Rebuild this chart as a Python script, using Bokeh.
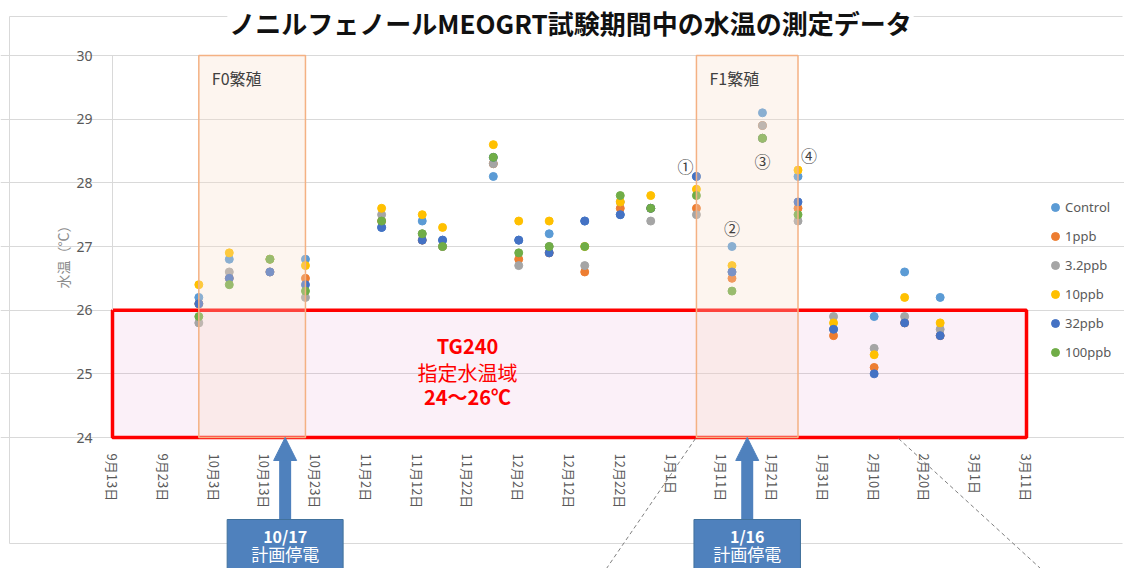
import math
from datetime import datetime
from bokeh.plotting import figure
from bokeh.models import (ColumnDataSource, FixedTicker, BoxAnnotation, Label, Arrow,
                          NormalHead, Range1d)
from bokeh.embed import file_html
from bokeh.resources import INLINE

nan = float("nan")

# ---------------- data ----------------
dates = ["2015-09-30", "2015-10-06", "2015-10-14", "2015-10-21", "2015-11-05", "2015-11-13",
         "2015-11-17", "2015-11-27", "2015-12-02", "2015-12-08", "2015-12-15", "2015-12-22",
         "2015-12-28", "2016-01-06", "2016-01-13", "2016-01-19", "2016-01-26", "2016-02-02",
         "2016-02-10", "2016-02-16", "2016-02-23"]
series_names = ["Control", "1ppb", "3.2ppb", "10ppb", "32ppb", "100ppb"]
series_colors = ["#5B9BD5", "#ED7D31", "#A5A5A5", "#FFC000", "#4472C4", "#70AD47"]
control = [26.2, 26.8, 26.8, 26.8, 27.3, 27.4, 27.1, 28.1, 27.1, 27.2, 27.4, 27.5, 27.6, 28.1, 27.0, 29.1, 28.1, 25.7, 25.9, 26.6, 26.2]
ppb1 = [26.1, 26.5, 26.6, 26.5, 27.4, 27.1, 27.0, 28.3, 26.8, 26.9, 26.6, 27.6, 27.6, 27.6, 26.5, 28.9, 27.6, 25.6, 25.1, 25.8, 25.6]
ppb3_2 = [25.8, 26.6, 26.6, 26.2, 27.5, 27.2, 27.0, 28.3, 26.7, 27.0, 26.7, 27.7, 27.4, 27.5, 26.6, 28.9, 27.4, 25.9, 25.4, 25.9, 25.7]
ppb10 = [26.4, 26.9, 26.8, 26.7, 27.6, 27.5, 27.3, 28.6, 27.4, 27.4, 27.0, 27.7, 27.8, 27.9, 26.7, 28.7, 28.2, 25.8, 25.3, 26.2, 25.8]
ppb32 = [26.1, 26.5, 26.6, 26.4, 27.3, 27.1, 27.1, 28.4, 27.1, 26.9, 27.4, 27.5, 27.6, 28.1, 26.6, 28.7, 27.7, 25.7, 25.0, 25.8, 25.6]
ppb100 = [25.9, 26.4, 26.8, 26.3, 27.4, 27.2, 27.0, 28.4, 26.9, 27.0, 27.0, 27.8, 27.6, 27.8, 26.3, 28.7, 27.5, nan, nan, nan, nan]

tick_dates = ["2015-09-13", "2015-09-23", "2015-10-03", "2015-10-13", "2015-10-23", "2015-11-02",
              "2015-11-12", "2015-11-22", "2015-12-02", "2015-12-12", "2015-12-22", "2016-01-01",
              "2016-01-11", "2016-01-21", "2016-01-31", "2016-02-10", "2016-02-20", "2016-03-01",
              "2016-03-11"]
tick_labels = ["9月13日", "9月23日", "10月3日", "10月13日", "10月23日", "11月2日", "11月12日",
               "11月22日", "12月2日", "12月12日", "12月22日", "1月1日", "1月11日", "1月21日",
               "1月31日", "2月10日", "2月20日", "3月1日", "3月11日"]
y_ticks = [24, 25, 26, 27, 28, 29, 30]

x_start, x_end = "2015-09-13", "2016-03-11"
y_min, y_max = 24, 30
target_low, target_high = 24, 26
f0_period = ("2015-09-30", "2015-10-21")
f1_period = ("2016-01-06", "2016-01-26")
outage_dates = ["2015-10-17", "2016-01-16"]
outage_labels = ["10/17", "1/16"]
marker_points = [("①", "2016-01-06"), ("②", "2016-01-13"), ("③", "2016-01-19"), ("④", "2016-01-26")]


def ms(s):
    return int((datetime.strptime(s, "%Y-%m-%d") - datetime(1970, 1, 1)).total_seconds() * 1000)


X0, X1 = ms(x_start), ms(x_end)

# canvas geometry (the frame fills the whole canvas; axes are placed at fixed locations)
W, H = 1124, 568
PX0, PX1 = 112, 1026     # canvas x of x_start / x_end
PY_TOP, PY_BOT = 55, 437  # canvas y of y_max / y_min
xs = (X1 - X0) / (PX1 - PX0)
ys = (y_max - y_min) / (PY_BOT - PY_TOP)
xr = Range1d(X0 - PX0 * xs, X1 + (W - PX1) * xs)
yr = Range1d(y_min - (H - PY_BOT) * ys, y_max + PY_TOP * ys)


def sy(py):  # canvas y (from top) -> screen units (from bottom)
    return H - py


JP = "Noto Sans CJK JP"

p = figure(width=W, height=H, x_axis_type="datetime", x_range=xr, y_range=yr,
           output_backend="svg", toolbar_location=None, title=None, min_border=0)
p.outline_line_color = None
p.background_fill_color = "white"
p.border_fill_color = "white"

# outer chart border
BORDER = "#d9d9d9"
for (a, b, c, d) in [(9, 16, 9, 543), (9, 543, 1122, 543), (9, 16, 1122, 16)]:
    p.add_layout(Arrow(start=None, end=None, start_units="screen", end_units="screen",
                       x_start=a, y_start=sy(b), x_end=c, y_end=sy(d),
                       line_color=BORDER, line_width=1))

# y axis line above the target zone
p.add_layout(Arrow(start=None, end=None, x_start=X0, y_start=target_high, x_end=X0,
                   y_end=y_max, line_color=BORDER, line_width=1))

# target zone (under points)
p.add_layout(BoxAnnotation(left=X0, right=X1, bottom=target_low, top=target_high,
                           fill_color="#CD44A8", fill_alpha=0.08,
                           line_color="#FF0000", line_alpha=1, line_width=3.5,
                           level="underlay"))

# axes at fixed locations
p.xaxis.fixed_location = y_min
p.xaxis.bounds = (X0, X1)
p.xaxis.ticker = FixedTicker(ticks=[ms(t) for t in tick_dates])
p.xaxis.major_label_overrides = {ms(t): l for t, l in zip(tick_dates, tick_labels)}
p.xaxis.major_label_orientation = -math.pi / 2
p.xaxis.major_label_text_font = JP
p.xaxis.major_label_text_font_size = "13px"
p.xaxis.major_label_text_color = "#595959"
p.xaxis.major_label_standoff = 10
p.xaxis.major_tick_line_color = None
p.xaxis.minor_tick_line_color = None
p.xaxis.axis_line_color = None

p.yaxis.fixed_location = X0
p.yaxis.bounds = (y_min, y_max)
p.yaxis.ticker = FixedTicker(ticks=y_ticks)
p.yaxis.major_label_text_font = "Noto Sans"
p.yaxis.major_label_text_font_size = "14px"
p.yaxis.major_label_text_color = "#595959"
p.yaxis.major_label_standoff = 14
p.yaxis.major_tick_line_color = None
p.yaxis.minor_tick_line_color = None
p.yaxis.axis_line_color = None

p.xgrid.grid_line_color = None
p.ygrid.grid_line_color = "#d9d9d9"
p.ygrid.ticker = FixedTicker(ticks=y_ticks)
p.ygrid.bounds = (X0, X1)

# y axis title
p.add_layout(Label(x=62, y=sy(253), x_units="screen", y_units="screen", text="水温（°C）",
                   angle=math.pi / 2, text_align="center", text_baseline="middle",
                   text_font=JP, text_font_size="14px", text_color="#8c8c8c"))

# points
src = ColumnDataSource(dict(x=[ms(d) for d in dates], c0=control, c1=ppb1, c2=ppb3_2,
                            c3=ppb10, c4=ppb32, c5=ppb100))
for i, (name, col) in enumerate(zip(series_names, series_colors)):
    p.scatter(x="x", y=f"c{i}", source=src, size=8, fill_color=col, line_color=col,
              legend_label=name)

# breeding periods (over points)
for (a, b), lab in [(f0_period, "F0繁殖"), (f1_period, "F1繁殖")]:
    p.add_layout(BoxAnnotation(left=ms(a), right=ms(b), bottom=y_min, top=y_max,
                               fill_color="#F8DECA", fill_alpha=0.3,
                               line_color="#F4B183", line_alpha=1, line_width=1.5))
    p.add_layout(Label(x=ms(a), y=sy(77), x_units="data", y_units="screen", x_offset=13,
                       text=lab, text_align="left", text_baseline="middle",
                       text_font=JP, text_font_size="16px", text_color="#404040"))

# title
p.add_layout(Label(x=570, y=sy(22), x_units="screen", y_units="screen",
                   text="ノニルフェノールMEOGRT試験期間中の水温の測定データ",
                   text_align="center", text_baseline="middle", text_font=JP,
                   text_font_size="26px", text_font_style="bold", text_color="#111111",
                   background_fill_color="white", padding=2))

# target zone text
for txt, py, style in [("TG240", 345, "bold"), ("指定水温域", 372, "normal"), ("24～26℃", 396, "bold")]:
    p.add_layout(Label(x=467, y=sy(py), x_units="screen", y_units="screen", text=txt,
                       text_align="center", text_baseline="middle", text_font=JP,
                       text_font_size="20px", text_font_style=style, text_color="#FF0000"))

# circled markers
offsets = {"①": (-11, 165), "②": (0, 227), "③": (0, 160), "④": (11, 154)}
for sym, d in marker_points:
    dx, py = offsets[sym]
    p.add_layout(Label(x=ms(d), y=sy(py), x_units="data", y_units="screen", x_offset=dx,
                       text=sym, text_align="center", text_baseline="middle",
                       text_font=JP, text_font_size="16px", text_color="#404040"))

# zoom indicator dashed lines
for (a, b, c, d) in [(695, 438, 606, 568), (898, 438, 1040, 568)]:
    p.add_layout(Arrow(start=None, end=None, start_units="screen", end_units="screen",
                       x_start=a, y_start=sy(b), x_end=c, y_end=sy(d),
                       line_color="#808080", line_width=1, line_dash="4 3"))

# planned power outage callouts
BLUE = "#4F81BD"
for d, lab in zip(outage_dates, outage_labels):
    p.add_layout(Arrow(end=NormalHead(size=23, fill_color=BLUE, line_color=BLUE),
                       x_start=ms(d), y_start=y_min - (522 - PY_BOT) * ys,
                       x_end=ms(d), y_end=y_min,
                       line_color=BLUE, line_width=12))
    p.add_layout(Label(x=ms(d), y=sy(519), x_units="data", y_units="screen", text=lab,
                       text_align="center", text_baseline="top", text_font=JP,
                       text_font_size="16px", text_font_style="bold", text_color="white",
                       background_fill_color=BLUE, border_line_color="#41719C",
                       padding=dict(left=36, right=36, top=4, bottom=50)))
    p.add_layout(Label(x=ms(d), y=sy(553), x_units="data", y_units="screen", text="計画停電",
                       text_align="center", text_baseline="middle", text_font=JP,
                       text_font_size="17px", text_color="white"))

# legend
lg = p.legend[0]
lg.location = (1045, sy(362))
lg.background_fill_alpha = 0
lg.border_line_color = None
lg.padding = 0
lg.margin = 0
lg.spacing = 9
lg.glyph_height = 20
lg.glyph_width = 20
lg.label_height = 20
lg.label_standoff = 0
lg.label_text_font = "Noto Sans"
lg.label_text_font_size = "13px"
lg.label_text_color = "#595959"

open("out.html", "w").write(file_html(p, INLINE))
